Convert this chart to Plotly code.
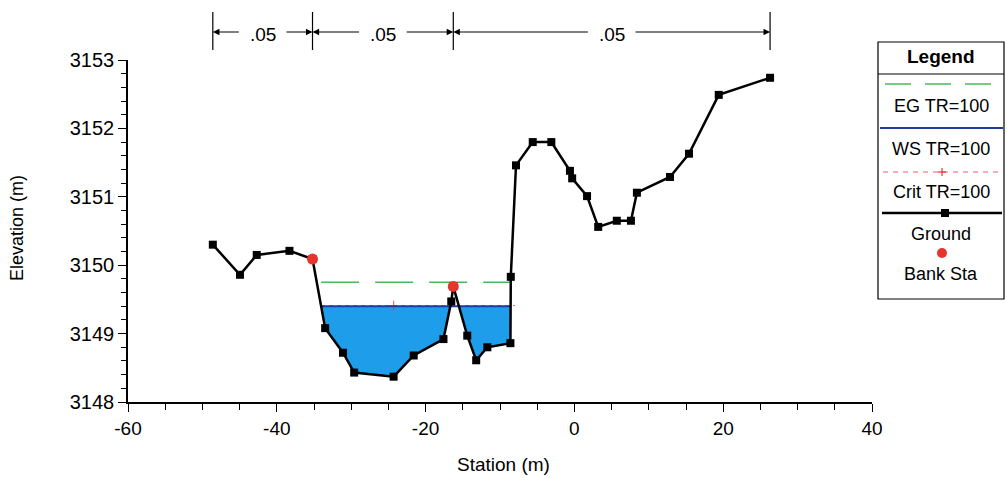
import numpy as np
import plotly.graph_objects as go

# ---------------- data ----------------
ground_x = [-48.6, -44.95, -42.7, -38.3, -35.2, -33.5, -31.1, -29.6, -24.3, -21.6,
            -17.6, -16.55, -16.28, -14.4, -13.2, -11.7, -8.6, -8.55, -7.85, -5.6,
            -3.1, -0.6, -0.3, 1.7, 3.2, 5.7, 7.6, 8.4, 12.85, 15.4, 19.4, 26.3]
ground_y = [3150.30, 3149.86, 3150.15, 3150.21, 3150.09, 3149.08, 3148.72, 3148.43,
            3148.37, 3148.68, 3148.92, 3149.47, 3149.69, 3148.97, 3148.61, 3148.80,
            3148.86, 3149.83, 3151.46, 3151.80, 3151.80, 3151.38, 3151.27, 3151.01,
            3150.56, 3150.65, 3150.65, 3151.06, 3151.29, 3151.63, 3152.49, 3152.74]
bank_sta = [-35.2, -16.28]
ws_elev = 3149.40
eg_elev = 3149.75
crit_elev = 3149.41
mann_n = [".05", ".05", ".05"]
x_ticks = [-60, -40, -20, 0, 20, 40]
y_ticks = [3148, 3149, 3150, 3151, 3152, 3153]

# --------------- layout geometry ---------------
W, H = 1007, 478
L, R, T, B = 128, 872, 60, 402   # plot area pixels


def px(x):
    return (x - L) / (R - L)


def py(y):
    return (B - y) / (B - T)


FONT = "Liberation Sans, Arial, sans-serif"
gx = np.array(ground_x)
gy = np.array(ground_y)

# water polygon (between WS and ground, inside channel)
i0 = ground_x.index(bank_sta[0])
i1 = 17
poly_x, poly_y = [], []
for i in range(i0, i1):
    xa, ya, xb, yb = gx[i], gy[i], gx[i + 1], gy[i + 1]
    if ya <= ws_elev:
        poly_x.append(xa); poly_y.append(ya)
    if (ya - ws_elev) * (yb - ws_elev) < 0:
        t = (ws_elev - ya) / (yb - ya)
        poly_x.append(xa + t * (xb - xa)); poly_y.append(ws_elev)
if gy[i1] <= ws_elev:
    poly_x.append(gx[i1]); poly_y.append(gy[i1])
xl, xr = poly_x[0], poly_x[-1]
poly_x = poly_x + [xr, xl]
poly_y = poly_y + [ws_elev, ws_elev]

fig = go.Figure()
fig.add_trace(go.Scatter(x=poly_x, y=poly_y, fill="toself", fillcolor="#1E9DEA",
                         mode="none", hoverinfo="skip", showlegend=False))
fig.add_trace(go.Scatter(x=[xl, xr], y=[eg_elev, eg_elev], mode="lines",
                         line=dict(color="#4DB85A", width=1.5, dash="38px,16px"),
                         showlegend=False))
cx = float(gx[np.argmin(gy)])
fig.add_trace(go.Scatter(x=[xl, cx, xr + 0.6], y=[crit_elev] * 3, mode="lines+markers",
                         line=dict(color="#F05A6A", width=1, dash="4px,4px"),
                         marker=dict(symbol="cross-thin", size=[0, 7, 0],
                                     line=dict(color="#E8303A", width=1.2)),
                         showlegend=False))
fig.add_trace(go.Scatter(x=[xl, xr], y=[ws_elev, ws_elev], mode="lines",
                         line=dict(color="#1F3C9E", width=2), showlegend=False))
fig.add_trace(go.Scatter(x=ground_x, y=ground_y, mode="lines+markers",
                         line=dict(color="black", width=2.5),
                         marker=dict(symbol="square", size=8, color="black"),
                         showlegend=False))
bank_y = [float(np.interp(b, gx, gy)) for b in bank_sta]
fig.add_trace(go.Scatter(x=bank_sta, y=bank_y, mode="markers",
                         marker=dict(symbol="circle", size=11, color="#E8342C"),
                         showlegend=False))

shapes = []
annotations = []

# Manning's n bar on top
n_sta = [ground_x[0], bank_sta[0], bank_sta[1], ground_x[-1]]
for s in n_sta:
    shapes.append(dict(type="line", xref="x", yref="paper", x0=s, x1=s,
                       y0=py(50), y1=py(12), line=dict(color="black", width=1.2)))
gap = 3.0
yarr = py(32)
for k in range(3):
    a, b = n_sta[k], n_sta[k + 1]
    m = (a + b) / 2
    annotations.append(dict(x=m, y=py(34), xref="x", yref="paper", text=mann_n[k],
                            xanchor="center", yanchor="middle",
                            showarrow=False, font=dict(size=19, family=FONT, color="black")))
    for head, tail in ((a, m - gap), (b, m + gap)):
        annotations.append(dict(x=head, y=yarr, xref="x", yref="paper", text="",
                                showarrow=True, ax=tail, axref="x", ay=0, ayref="pixel",
                                arrowhead=2, arrowsize=1.1, arrowwidth=1.2,
                                arrowcolor="black", standoff=0, startstandoff=0))

# axis titles
annotations.append(dict(x=px(503), y=py(464), xref="paper", yref="paper",
                        text="Station (m)", showarrow=False,
                        xanchor="center", yanchor="middle",
                        font=dict(size=19, family=FONT, color="black")))
annotations.append(dict(x=px(17), y=py(228), xref="paper", yref="paper",
                        text="Elevation (m)", showarrow=False, textangle=-90,
                        xanchor="center", yanchor="middle",
                        font=dict(size=18, family=FONT, color="black")))

# custom legend box
lx0, lx1, ly0, ly1 = 878, 1004, 42, 299
shapes.append(dict(type="rect", xref="paper", yref="paper", x0=px(lx0), x1=px(lx1),
                   y0=py(ly1), y1=py(ly0), line=dict(color="black", width=1.2),
                   fillcolor="white", layer="above"))
shapes.append(dict(type="line", xref="paper", yref="paper", x0=px(lx0), x1=px(lx1),
                   y0=py(74), y1=py(74), line=dict(color="black", width=1.2)))
cxl = (lx0 + lx1) / 2
annotations.append(dict(x=px(cxl), y=py(57), xref="paper", yref="paper",
                        text="<b>Legend</b>", showarrow=False,
                        xanchor="center", yanchor="middle",
                        font=dict(size=19, family=FONT, color="black")))
# EG sample
shapes.append(dict(type="line", xref="paper", yref="paper", x0=px(885), x1=px(1002),
                   y0=py(84), y1=py(84), line=dict(color="#4DB85A", width=1.5, dash="26px,14px")))
# WS sample
shapes.append(dict(type="line", xref="paper", yref="paper", x0=px(880), x1=px(1003),
                   y0=py(128), y1=py(128), line=dict(color="#1F3C9E", width=2)))
# Crit sample
shapes.append(dict(type="line", xref="paper", yref="paper", x0=px(883), x1=px(1002),
                   y0=py(172), y1=py(172), line=dict(color="#F05A6A", width=1, dash="5px,5px")))
shapes.append(dict(type="line", xref="paper", yref="paper", x0=px(942), x1=px(942),
                   y0=py(176), y1=py(168), line=dict(color="#E8303A", width=1.2)))
shapes.append(dict(type="line", xref="paper", yref="paper", x0=px(938), x1=px(946),
                   y0=py(172), y1=py(172), line=dict(color="#E8303A", width=1.2)))
# Ground sample
shapes.append(dict(type="line", xref="paper", yref="paper", x0=px(882), x1=px(1002),
                   y0=py(213), y1=py(213), line=dict(color="black", width=2.5)))
shapes.append(dict(type="rect", xref="paper", yref="paper", x0=px(941), x1=px(949),
                   y0=py(217), y1=py(209), line=dict(color="black", width=0), fillcolor="black"))
# Bank sample
shapes.append(dict(type="circle", xref="paper", yref="paper", x0=px(937), x1=px(947),
                   y0=py(258), y1=py(248), line=dict(color="#E8342C", width=0), fillcolor="#E8342C"))
for txt, yy in (("EG TR=100", 106), ("WS TR=100", 149), ("Crit TR=100", 192),
                ("Ground", 234), ("Bank Sta", 274)):
    annotations.append(dict(x=px(cxl), y=py(yy), xref="paper", yref="paper", text=txt,
                            xanchor="center", yanchor="middle",
                            showarrow=False, font=dict(size=18, family=FONT, color="black")))

fig.update_layout(
    width=W, height=H,
    margin=dict(l=L, r=W - R, t=T, b=H - B, pad=0),
    paper_bgcolor="white", plot_bgcolor="white",
    font=dict(family=FONT, size=19, color="black"),
    shapes=shapes, annotations=annotations,
    showlegend=False,
)
fig.update_xaxes(range=[-60, 40], tickvals=x_ticks, ticktext=[str(v) for v in x_ticks],
                 ticks="outside", ticklen=8,
                 tickwidth=1.2, tickcolor="black", showline=True, linecolor="black",
                 linewidth=1.5, showgrid=False, zeroline=False,
                 minor=dict(dtick=5, ticks="outside", ticklen=6, tickwidth=1, tickcolor="black"),
                 tickfont=dict(size=19, family=FONT))
fig.update_yaxes(range=[3148, 3153], tickvals=y_ticks, ticktext=[str(v) for v in y_ticks],
                 ticks="outside", ticklen=8,
                 tickwidth=1.2, tickcolor="black", showline=True, linecolor="black",
                 linewidth=1.5, showgrid=False, zeroline=False,
                 minor=dict(dtick=0.2, ticks="outside", ticklen=5, tickwidth=1, tickcolor="black"),
                 tickfont=dict(size=20, family=FONT))

fig.write_html("out.html", config={"displayModeBar": False},
               post_script="document.body.style.margin='0';")
